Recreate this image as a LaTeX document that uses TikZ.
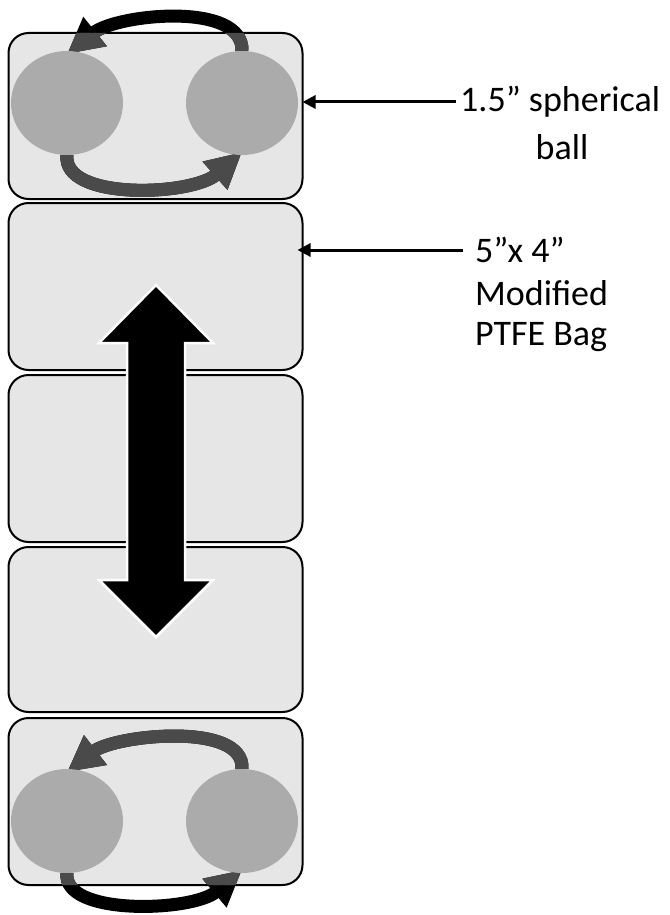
\documentclass[tikz,border=0pt]{standalone}
\usepackage{fontspec}
\setmainfont{Carlito}
\usetikzlibrary{shapes.geometric,arrows.meta}
\definecolor{boxfill}{HTML}{E6E6E6}
\definecolor{ballfill}{HTML}{ABABAB}
\definecolor{arcgray}{HTML}{4A4A4A}
\tikzset{
  bag/.style={draw=black, line width=2pt, fill=boxfill, rounded corners=20pt,
    minimum width=294pt, inner sep=0pt, outer sep=0pt},
  ball/.style={ellipse, draw=none, minimum width=112pt,
    minimum height=104pt, inner sep=0pt, outer sep=0pt},
  rot/.style={line width=13pt, -{Triangle[length=36pt,width=35pt]}},
  lbl/.style={font=\fontsize{36}{44}\selectfont, inner sep=0pt, anchor=west},
  ptr/.style={line width=3pt, -{Triangle[length=13pt,width=13pt]}},
}
\begin{document}
\begin{tikzpicture}[x=1pt,y=-1pt]
\useasboundingbox (0,0) rectangle (669,915);
% bags
\node[bag, minimum height=166pt] (box1) at (155.5,116) {};
\node[bag, minimum height=167pt] (box2) at (155.5,286.5) {};
\node[bag, minimum height=167pt] (box3) at (155.5,458.5) {};
\node[bag, minimum height=165pt] (box4) at (155.5,629.5) {};
\node[bag, minimum height=167pt] (box5) at (155.5,801.5) {};
% ball anchors
\node[ball] (ballL1) at (67,103) {};
\node[ball] (ballR1) at (242,103) {};
\node[ball] (ballL5) at (67,821) {};
\node[ball] (ballR5) at (242,821) {};
% rotation arrows
\def\arcsA{
  \draw[rot] (ballR1.north) .. controls +(2,-50) and +(50,-40) .. ([yshift=-3pt]ballL1.north);
  \draw[rot] (ballL1.south) .. controls +(-5,46) and +(-50,44) .. ([yshift=3pt]ballR1.south);
}
\def\arcsB{
  \draw[rot] (ballR5.north) .. controls +(3,-48) and +(48,-37) .. ([yshift=-3pt]ballL5.north);
  \draw[rot] (ballL5.south) .. controls +(-5,43) and +(-50,42) .. ([yshift=3pt]ballR5.south);
}
\begin{scope}[black]\arcsA\arcsB\end{scope}
\begin{scope}
  \clip[rounded corners=20pt] (box1.north west) rectangle (box1.south east);
  \begin{scope}[arcgray]\arcsA\end{scope}
\end{scope}
\begin{scope}
  \clip[rounded corners=20pt] (box5.north west) rectangle (box5.south east);
  \begin{scope}[arcgray]\arcsB\end{scope}
\end{scope}
% balls
\fill[ballfill] (ballL1.center) ellipse [x radius=56pt, y radius=52pt];
\fill[ballfill] (ballR1.center) ellipse [x radius=56pt, y radius=52pt];
\fill[ballfill] (ballL5.center) ellipse [x radius=56pt, y radius=52pt];
\fill[ballfill] (ballR5.center) ellipse [x radius=56pt, y radius=52pt];
% big double arrow
\fill[black, draw=white, line width=2.5pt]
  (156,285) -- (213,343) -- (185,343) -- (185,580) -- (213,580) -- (156,637)
  -- (99,580) -- (127,580) -- (127,343) -- (99,343) -- cycle;
% labels
\node[lbl] (lab1a) at (460,102) {1.5” spherical};
\node[lbl, anchor=center] (lab1b) at (562,147) {ball};
\node[lbl] (lab2a) at (475,250) {5”x 4”};
\node[lbl] (lab2b) at (475,293) {Modified};
\node[lbl] (lab2c) at (475,337) {PTFE Bag};
\draw[ptr, shorten <=4pt] (lab1a.west) -- (box1.east |- lab1a.west);
\draw[ptr, shorten <=12pt, shorten >=-5pt] (lab2a.west) -- (box2.east |- lab2a.west);
\end{tikzpicture}
\end{document}
